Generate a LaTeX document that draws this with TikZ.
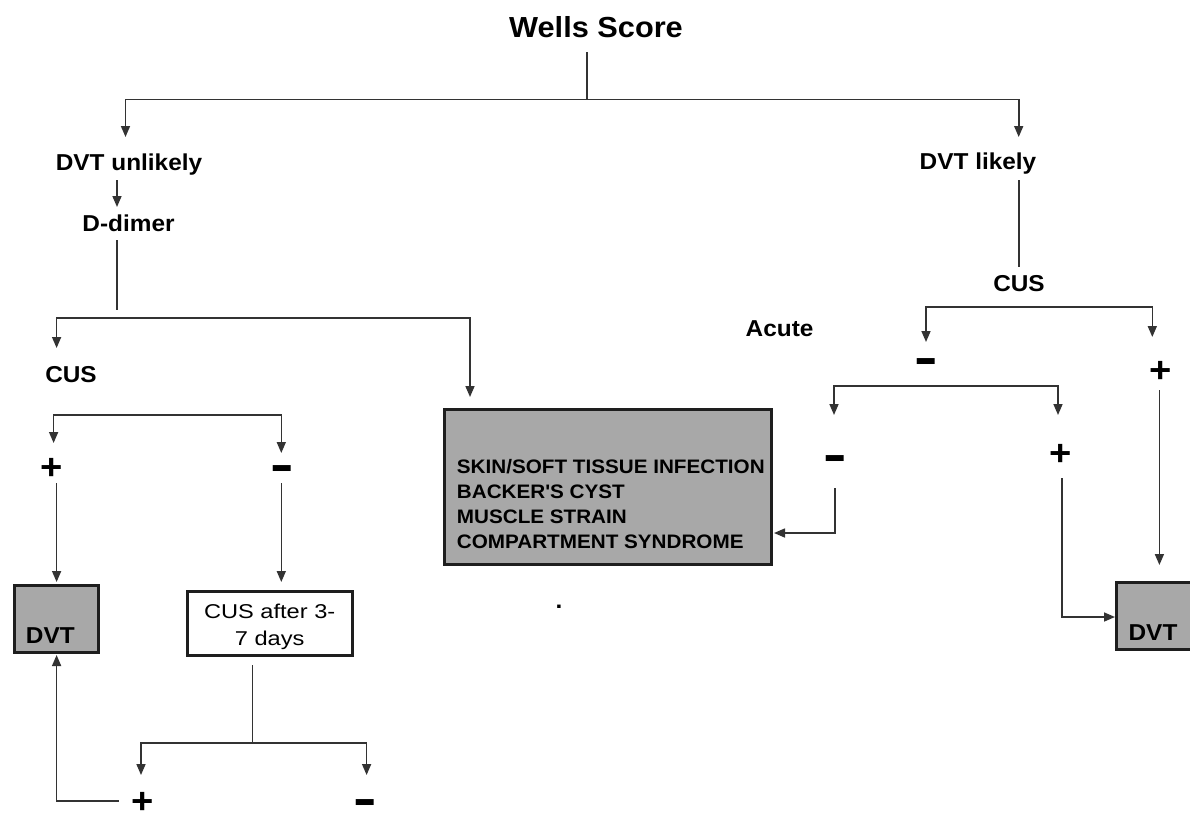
\documentclass[tikz,border=0pt]{standalone}
\usepackage{fontspec}
\usepackage{graphicx}
\usetikzlibrary{arrows.meta}
\newfontfamily\lab[FakeStretch=1.06]{Liberation Sans}
\newfontfamily\labr[FakeStretch=1.18]{Liberation Sans}
\definecolor{linec}{HTML}{333333}
\definecolor{boxgray}{HTML}{A8A8A8}
\definecolor{bordc}{HTML}{1E1E1E}
\begin{document}
\begin{tikzpicture}[x=1pt,y=-1pt,
  ln/.style={draw=linec, line width=1.6pt},
  arr/.style={ln, -{Triangle[length=11pt,width=9pt]}},
  lbl/.style={inner sep=0pt, anchor=base, font=\lab\bfseries\fontsize{23}{23}\selectfont},
  plussign/.style={inner sep=0pt, anchor=base, font=\lab\bfseries\fontsize{36}{36}\selectfont},
  minussign/.style={inner sep=0pt, anchor=base, font=\lab\bfseries\fontsize{50}{50}\selectfont},
  graybox/.style={draw=bordc, fill=boxgray, line width=3pt, inner sep=0pt},
  whitebox/.style={draw=bordc, fill=white, line width=3.5pt, inner sep=0pt}]
\useasboundingbox (0,0) rectangle (1190,812);
\clip (0,0) rectangle (1190,812);
\fill[white] (0,0) rectangle (1190,812);

% text nodes
\node[lbl, font=\lab\bfseries\fontsize{29}{29}\selectfont] (wells) at (596,37) {Wells Score};
\node[lbl] (unl) at (129,170) {DVT unlikely};
\node[lbl] (dd) at (128.5,231.7) {D-dimer};
\node[lbl] (cusL) at (71,382) {CUS};
\node[lbl] (lik) at (978,169.5) {DVT likely};
\node[lbl] (cusR) at (1019,291.7) {CUS};
\node[lbl] (acute) at (779.6,336.7) {Acute};

% boxes
\node[graybox, minimum width=84pt, minimum height=67pt] (dvtL) at (56,619) {};
\node[lbl] (dvtLt) at (50.3,643) {DVT};
\node[graybox, minimum width=80pt, minimum height=67pt] (dvtR) at (1156.5,616) {};
\node[lbl] (dvtRt) at (1153,640) {DVT};
\node[graybox, minimum width=327.6pt, minimum height=155pt] (dx) at (608,487) {};
\node[inner sep=0pt, anchor=north west, align=left,
      font=\lab\bfseries\fontsize{19.5}{25}\selectfont] (dxt) at (456.7,459.6)
  {SKIN/SOFT TISSUE INFECTION\\BACKER'S CYST\\MUSCLE STRAIN\\COMPARTMENT SYNDROME};
\node[whitebox, minimum width=165pt, minimum height=64pt] (cusbox) at (270,623.5) {};
\node[inner sep=0pt, align=center, font=\labr\fontsize{20}{26.7}\selectfont] (cusboxt) at (269.7,626.5)
  {CUS after 3-\\7 days};

% signs
\node[plussign] (p1) at (51.7,479.7) {+};
\node[minussign] (m1) at (282.4,481) {\scalebox{1.33}[1]{-}};
\node[minussign] (m2) at (926,374) {\scalebox{1.33}[1]{-}};
\node[plussign] (p2) at (1160.6,382.7) {+};
\node[minussign] (m3) at (835,471) {\scalebox{1.33}[1]{-}};
\node[plussign] (p3) at (1061,465.7) {+};
\node[plussign] (p4) at (143,809.3) {\raisebox{-4.2pt}[17pt][0pt]{+}};
\node[minussign] (m4) at (365,805.5) {\raisebox{-9.5pt}[7pt][0pt]{\scalebox{1.33}[1]{-}}};
\node[lbl] (dot) at (559,608.6) {.};

% coordinates
\coordinate (wb) at (587,52);
\coordinate (j1) at (587,99.5);
\coordinate (tA) at (125.5,137);
\coordinate (tB) at (1018.7,137);
\coordinate (ua) at (117,180);
\coordinate (ub) at (117,207);
\coordinate (da) at (117,240);
\coordinate (db) at (117,310);
\coordinate (j2) at (117,318);
\coordinate (tC) at (56.6,348);
\coordinate (tD) at (470,397);
\coordinate (h3l) at (53.6,415);
\coordinate (h3r) at (281.3,415);
\coordinate (tP1) at (53.6,443);
\coordinate (tM1) at (281.3,453);
\coordinate (p1a) at (56.6,483);
\coordinate (p1b) at (56.6,582);
\coordinate (m1a) at (281.3,483);
\coordinate (m1b) at (281.3,582);
\coordinate (ca) at (252.6,665);
\coordinate (j4) at (252.6,743);
\coordinate (t4l) at (141,775);
\coordinate (t4r) at (366.6,775);
\coordinate (p4a) at (118.6,801);
\coordinate (p4b) at (56.6,655);
\coordinate (la) at (1018.7,180);
\coordinate (lb) at (1018.7,267);
\coordinate (h5l) at (926,307);
\coordinate (h5r) at (1152.3,307);
\coordinate (t5l) at (926,342);
\coordinate (t5r) at (1152.3,337);
\coordinate (p2a) at (1159.4,390);
\coordinate (p2b) at (1159.4,565);
\coordinate (h6l) at (834,386);
\coordinate (h6r) at (1058,386);
\coordinate (t6l) at (834,415);
\coordinate (t6r) at (1058,415);
\coordinate (m3a) at (835,488);
\coordinate (m3b) at (774,533);
\coordinate (p3a) at (1062,478);
\coordinate (p3b) at (1115,617);

% connectors
\draw[ln] (wb) -- (j1);
\draw[arr] (j1) -| (tA);
\draw[arr] (j1) -| (tB);
\draw[arr] (ua) -- (ub);
\draw[ln] (da) -- (db);
\draw[arr] (j2) -| (tC);
\draw[arr] (j2) -| (tD);
\draw[arr] (h3r) -- (h3l) -- (tP1);
\draw[arr] (h3l) -- (h3r) -- (tM1);
\draw[arr] (p1a) -- (p1b);
\draw[arr] (m1a) -- (m1b);
\draw[ln] (ca) -- (j4);
\draw[arr] (j4) -| (t4l);
\draw[arr] (j4) -| (t4r);
\draw[arr] (p4a) -| (p4b);
\draw[ln] (la) -- (lb);
\draw[arr] (h5r) -- (h5l) -- (t5l);
\draw[arr] (h5l) -- (h5r) -- (t5r);
\draw[arr] (p2a) -- (p2b);
\draw[arr] (h6r) -- (h6l) -- (t6l);
\draw[arr] (h6l) -- (h6r) -- (t6r);
\draw[arr] (m3a) |- (m3b);
\draw[arr] (p3a) |- (p3b);
\end{tikzpicture}
\end{document}
